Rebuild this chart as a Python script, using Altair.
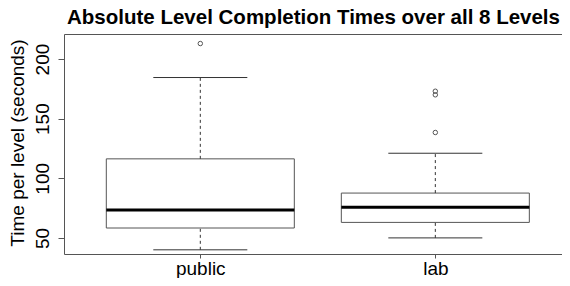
import altair as alt
import pandas as pd

# ---- data ----
groups = ["public", "lab"]
positions = [1, 2]
whisker_low = [40.0, 50.0]
q1 = [58.3, 63.0]
median = [73.5, 75.7]
q3 = [116.3, 87.6]
whisker_high = [184.5, 121.0]
outlier_group = ["public", "lab", "lab", "lab"]
outlier_value = [213.0, 138.4, 170.0, 173.0]
y_ticks = [50, 100, 150, 200]

title_text = "Absolute Level Completion Times over all 8 Levels"
y_title = "Time per level (seconds)"

stats = pd.DataFrame({
    "group": groups,
    "pos": positions,
    "lo": whisker_low,
    "q1": q1,
    "med": median,
    "q3": q3,
    "hi": whisker_high,
})
pos_map = dict(zip(groups, positions))
outl = pd.DataFrame({
    "group": outlier_group,
    "pos": [pos_map[g] for g in outlier_group],
    "value": outlier_value,
})

label_expr = "".join(
    f"datum.value == {p} ? '{g}' : " for p, g in zip(positions, groups)
) + "''"

FONT = "Liberation Sans"
GRAY = "#555555"

xscale = alt.Scale(domain=[0.42, 2.539], nice=False, zero=False)
yscale = alt.Scale(domain=[36.5, 221.0], nice=False, zero=False)

xaxis = alt.Axis(
    values=positions, labelExpr=label_expr, title=None, grid=False,
    domain=True, domainColor=GRAY, domainWidth=1,
    tickSize=4, tickColor=GRAY, labelFontSize=19, labelFont=FONT, labelColor="black",
    labelPadding=1, labelFlush=False, labelOverlap=False,
)
yaxis = alt.Axis(
    values=y_ticks, title=y_title, grid=False,
    domain=True, domainColor=GRAY, domainWidth=1,
    tickSize=6, tickColor=GRAY,
    labelAngle=270, labelAlign="center", labelBaseline="bottom", labelPadding=6,
    labelFontSize=19, labelFont=FONT, labelColor="black", labelFlush=False,
    labelOverlap=False,
    titleAngle=270, titleAlign="center", titleBaseline="bottom", titleX=-36.5,
    titleY=108.5, titleFont=FONT, titleFontSize=19, titleFontWeight="normal",
    titleColor="black",
)
top_axis = alt.Axis(
    orient="top", labels=False, ticks=False, grid=False, title=None,
    domain=True, domainColor=GRAY, domainWidth=1,
)

base = alt.Chart(stats).transform_calculate(
    xl="datum.pos - 0.4", xr="datum.pos + 0.4",
    cl="datum.pos - 0.2", cr="datum.pos + 0.2",
)

box = base.mark_rect(fill="white", stroke=GRAY, strokeWidth=1).encode(
    x=alt.X("xl:Q", scale=xscale, axis=xaxis),
    x2="xr:Q",
    y=alt.Y("q1:Q", scale=yscale, axis=yaxis),
    y2="q3:Q",
)

whisk_up = base.mark_rule(color="#333333", strokeDash=[3, 3], strokeWidth=1).encode(
    x=alt.X("pos:Q", scale=xscale, axis=xaxis),
    y=alt.Y("q3:Q", scale=yscale, axis=yaxis),
    y2="hi:Q",
)
whisk_dn = base.mark_rule(color="#333333", strokeDash=[3, 3], strokeWidth=1).encode(
    x=alt.X("pos:Q", scale=xscale, axis=xaxis),
    y=alt.Y("lo:Q", scale=yscale, axis=yaxis),
    y2="q1:Q",
)
cap_hi = base.mark_rule(color="#333333", strokeWidth=1).encode(
    x=alt.X("cl:Q", scale=xscale, axis=xaxis),
    x2="cr:Q",
    y=alt.Y("hi:Q", scale=yscale, axis=yaxis),
)
cap_lo = base.mark_rule(color="#333333", strokeWidth=1).encode(
    x=alt.X("cl:Q", scale=xscale, axis=xaxis),
    x2="cr:Q",
    y=alt.Y("lo:Q", scale=yscale, axis=yaxis),
)
med = base.mark_rule(color="black", strokeWidth=3).encode(
    x=alt.X("xl:Q", scale=xscale, axis=xaxis),
    x2="xr:Q",
    y=alt.Y("med:Q", scale=yscale, axis=yaxis),
)
pts = alt.Chart(outl).mark_point(
    shape="circle", filled=False, size=20, color=GRAY, strokeWidth=1, opacity=1
).encode(
    x=alt.X("pos:Q", scale=xscale, axis=xaxis),
    y=alt.Y("value:Q", scale=yscale, axis=yaxis),
)

# invisible layer that only carries the top frame line (as a top axis domain)
frame_top = base.mark_point(opacity=0).encode(
    x=alt.X("pos:Q", scale=xscale, axis=top_axis),
)

main = alt.layer(box, whisk_up, whisk_dn, cap_hi, cap_lo, med, pts)

chart = alt.layer(main, frame_top).resolve_axis(x="independent").properties(
    width=498,
    height=220,
    padding={"left": 56, "top": 26, "right": 0, "bottom": 24},
    autosize="none",
    title=alt.TitleParams(
        text=title_text, font=FONT, fontSize=20.5, fontWeight="bold",
        anchor="middle", frame="group", dx=0.5, offset=5.3, color="black",
    ),
).configure_view(stroke=None)

chart.save("out.html", embed_options={"renderer": "svg", "actions": False})
